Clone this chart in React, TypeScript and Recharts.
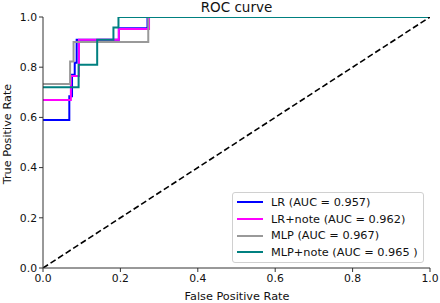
import { LineChart, Line, XAxis, YAxis } from "recharts";

// ROC points (false positive rate, true positive rate)
const lrFpr = [0, 0.068, 0.068, 0.075, 0.075, 0.082, 0.082, 0.087, 0.087, 0.196, 0.196, 0.27, 0.27, 1];
const lrTpr = [0.59, 0.59, 0.684, 0.684, 0.77, 0.77, 0.818, 0.818, 0.909, 0.909, 0.955, 0.955, 1, 1];

const lrNoteFpr = [0, 0.072, 0.072, 0.093, 0.093, 0.196, 0.196, 0.274, 0.274, 1];
const lrNoteTpr = [0.669, 0.669, 0.765, 0.765, 0.909, 0.909, 0.952, 0.952, 1, 1];

const mlpFpr = [0, 0.07, 0.07, 0.079, 0.079, 0.272, 0.272, 1];
const mlpTpr = [0.733, 0.733, 0.823, 0.823, 0.9, 0.9, 1, 1];

const mlpNoteFpr = [0, 0.092, 0.092, 0.14, 0.14, 0.182, 0.182, 0.195, 0.195, 1];
const mlpNoteTpr = [0.72, 0.72, 0.81, 0.81, 0.909, 0.909, 0.958, 0.958, 1, 1];

const chanceFpr = [0, 1];
const chanceTpr = [0, 1];

const ticks = [0, 0.2, 0.4, 0.6, 0.8, 1.0];

const series = [
  { name: "LR (AUC = 0.957)", color: "#0000ff", fpr: lrFpr, tpr: lrTpr },
  { name: "LR+note (AUC = 0.962)", color: "#ff00ff", fpr: lrNoteFpr, tpr: lrNoteTpr },
  { name: "MLP (AUC = 0.967)", color: "#999999", fpr: mlpFpr, tpr: mlpTpr },
  { name: "MLP+note (AUC = 0.965 )", color: "#008080", fpr: mlpNoteFpr, tpr: mlpNoteTpr },
];

const toPoints = (xs: number[], ys: number[]) =>
  xs.map((x, i) => ({ x, y: ys[i] }));

const font = "'DejaVu Sans', sans-serif";

function RocLegend() {
  return (
    <div
      style={{
        position: "absolute",
        left: 232,
        top: 192,
        width: 192,
        height: 71,
        boxSizing: "border-box",
        border: "1px solid #d0d0d0",
        borderRadius: 3,
        background: "#fff",
        padding: "1px 0 0 4px",
        fontFamily: font,
        fontSize: 11.3,
        color: "#111",
      }}
    >
      {series.map((s) => (
        <div
          key={s.name}
          style={{ display: "flex", alignItems: "center", height: 16.7, whiteSpace: "nowrap" }}
        >
          <span
            style={{
              display: "inline-block",
              width: 26,
              height: 2,
              background: s.color,
              marginRight: 8,
            }}
          />
          {s.name}
        </div>
      ))}
    </div>
  );
}

export default function App() {
  return (
    <div style={{ position: "absolute", left: 0, top: 0, width: 440, height: 303, background: "#fff" }}>
      <LineChart
        width={440}
        height={303}
        margin={{ top: 17, right: 10, bottom: 0, left: 0 }}
      >
        <XAxis
          type="number"
          dataKey="x"
          domain={[0, 1]}
          ticks={ticks}
          tickFormatter={(v: number) => v.toFixed(1)}
          height={35}
          stroke="#333"
          tickSize={4}
          tick={{ fill: "#111", fontSize: 10.8, fontFamily: font }}
          allowDataOverflow
        />
        <YAxis
          type="number"
          dataKey="y"
          domain={[0, 1]}
          ticks={ticks}
          tickFormatter={(v: number) => v.toFixed(1)}
          width={43}
          stroke="#333"
          tickSize={4}
          tick={{ fill: "#111", fontSize: 10.8, fontFamily: font }}
          allowDataOverflow
        />
        <XAxis xAxisId="top" orientation="top" type="number" domain={[0, 1]} tick={false} tickLine={false} height={0} stroke="#333" />
        <YAxis yAxisId="right" orientation="right" type="number" domain={[0, 1]} tick={false} tickLine={false} width={0} stroke="#333" />
        {series.map((s) => (
          <Line
            key={s.name}
            data={toPoints(s.fpr, s.tpr)}
            dataKey="y"
            name={s.name}
            type="linear"
            stroke={s.color}
            strokeWidth={2}
            dot={false}
            isAnimationActive={false}
          />
        ))}
        <Line
          data={toPoints(chanceFpr, chanceTpr)}
          dataKey="y"
          type="linear"
          stroke="#000"
          strokeWidth={1.6}
          strokeDasharray="6 3"
          dot={false}
          legendType="none"
          isAnimationActive={false}
        />
        <text x={236.5} y={12} textAnchor="middle" fontSize={13.5} fontFamily={font} fill="#111">
          ROC curve
        </text>
        <text x={237} y={300} textAnchor="middle" fontSize={11.3} fontFamily={font} fill="#111">
          False Positive Rate
        </text>
        <text
          x={10.5}
          y={134}
          textAnchor="middle"
          fontSize={11.3}
          fontFamily={font}
          fill="#111"
          transform="rotate(-90 10.5 134)"
        >
          True Positive Rate
        </text>
      </LineChart>
      <RocLegend />
    </div>
  );
}
